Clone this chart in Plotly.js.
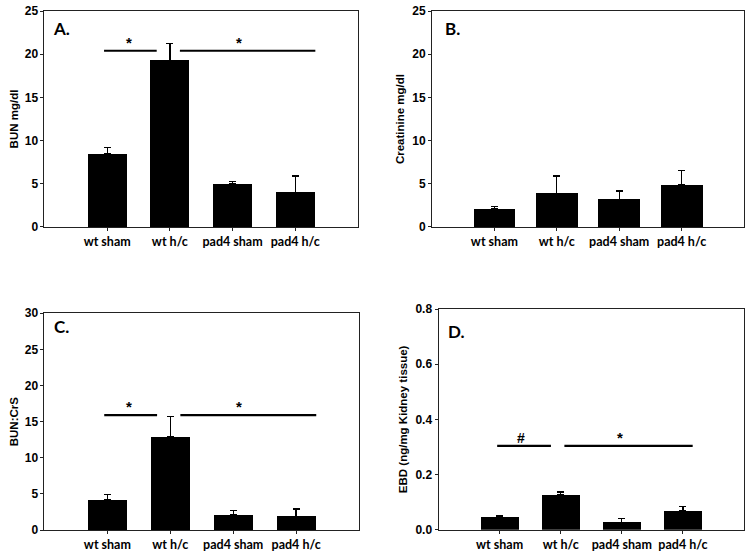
<!DOCTYPE html>
<html>
<head>
<meta charset="utf-8">
<script src="https://cdn.plot.ly/plotly-3.0.1.min.js"></script>
<style>html,body{margin:0;padding:0;background:#fff}#chart{width:750px;height:554px}</style>
</head>
<body>
<div id="chart"></div>
<script>
// ---- data ----
var categories = ["wt sham", "wt h/c", "pad4 sham", "pad4 h/c"];
var bunValues = [8.5, 19.3, 5.0, 4.0];
var bunErrors = [0.7, 1.9, 0.3, 1.9];
var creatValues = [2.1, 3.9, 3.2, 4.9];
var creatErrors = [0.3, 2.0, 0.95, 1.6];
var ratioValues = [4.15, 12.9, 2.1, 1.9];
var ratioErrors = [0.8, 2.8, 0.6, 1.0];
var ebdValues = [0.045, 0.126, 0.027, 0.068];
var ebdErrors = [0.005, 0.011, 0.014, 0.015];
var yTicksA = [0, 5, 10, 15, 20, 25];
var yTicksC = [0, 5, 10, 15, 20, 25, 30];
var yTicksD = [0, 0.2, 0.4, 0.6, 0.8];
var yTickTextD = ["0.0", "0.2", "0.4", "0.6", "0.8"];
// significance brackets: [x start, x end, y, symbol, symbol x]
var sigA = [[-0.05, 0.79, 20.4, "*", 0.35], [1.16, 3.32, 20.4, "*", 2.1]];
var sigC = [[-0.05, 0.79, 15.9, "*", 0.35], [1.16, 3.32, 15.9, "*", 2.1]];
var sigD = [[-0.04, 0.84, 0.304, "#", 0.35], [1.06, 3.16, 0.304, "*", 1.97]];

var xIdx = categories.map(function (c, i) { return i; });

function barTrace(vals, errs, xa, ya, w) {
  return {
    type: "bar", x: xIdx, y: vals, xaxis: xa, yaxis: ya, width: w,
    marker: {color: "#000000", line: {width: 0}},
    error_y: {type: "data", array: errs, symmetric: false, arrayminus: errs.map(function(){return 0;}), color: "#000", thickness: 1.3, width: 3.5},
    showlegend: false, hoverinfo: "none"
  };
}
var traces = [
  barTrace(bunValues, bunErrors, "x", "y", 0.62),
  barTrace(creatValues, creatErrors, "x2", "y2", 0.67),
  barTrace(ratioValues, ratioErrors, "x3", "y3", 0.62),
  barTrace(ebdValues, ebdErrors, "x4", "y4", 0.62)
];
var annotations = [];
function addSig(sig, xa, ya) {
  sig.forEach(function (s) {
    traces.push({type: "scatter", mode: "lines", x: [s[0], s[1]], y: [s[2], s[2]], xaxis: xa, yaxis: ya,
      line: {color: "#000", width: 2.2}, showlegend: false, hoverinfo: "none"});
    annotations.push({xref: xa, yref: ya, x: s[4], y: s[2], yanchor: "bottom", yshift: -2, text: s[3], showarrow: false,
      font: {family: "Liberation Sans, Arial", size: s[3] === "#" ? 14 : 15, color: "#000", weight: "bold"}});
  });
}
addSig(sigA, "x", "y");
addSig(sigC, "x3", "y3");
addSig(sigD, "x4", "y4");

function panelLabel(t, xa, ya, xv, yv) {
  annotations.push({xref: xa + " domain", yref: ya + " domain", x: xv, y: yv, xanchor: "left", yanchor: "middle",
    text: t, showarrow: false, font: {family: "Lato, Open Sans, sans-serif", size: 17, color: "#000", weight: "bold"}});
}
panelLabel("A.", "x", "y", 0.02, 0.92);
panelLabel("B.", "x2", "y2", 0.036, 0.92);
panelLabel("C.", "x3", "y3", 0.024, 0.94);
panelLabel("D.", "x4", "y4", 0.026, 0.90);

var tickFontY = {family: "Liberation Sans, Arial", size: 12, color: "#000", weight: "bold"};
var tickFontX = {family: "Lato, Open Sans, sans-serif", size: 12.5, color: "#000", weight: "bold"};
var titleFont = {family: "Liberation Sans, Arial", size: 11.5, color: "#000", weight: "bold"};

function xAxis(dom, anchor) {
  return {domain: dom, anchor: anchor, range: [-1, 4], tickvals: xIdx, ticktext: categories, tickangle: 0,
    showgrid: false, zeroline: false, showline: true, linecolor: "#222", linewidth: 1, mirror: true,
    ticks: "outside", ticklen: 3, tickcolor: "#222", tickfont: tickFontX, fixedrange: true};
}
function yAxis(dom, anchor, range, tv, tt, title, standoff) {
  return {domain: dom, anchor: anchor, range: range, tickvals: tv, ticktext: tt,
    showgrid: false, zeroline: false, showline: true, linecolor: "#222", linewidth: 1, mirror: true,
    ticks: "outside", ticklen: 3, tickcolor: "#222", tickfont: tickFontY,
    title: {text: title, font: titleFont, standoff: standoff}, fixedrange: true};
}

var layout = {
  width: 750, height: 554,
  margin: {l: 0, r: 0, t: 0, b: 0},
  paper_bgcolor: "#fff", plot_bgcolor: "#fff",
  showlegend: false,
  bargap: 0,
  xaxis: xAxis([0.0593, 0.4773], "y"),
  yaxis: yAxis([0.5903, 0.9801], "x", [0, 25], yTicksA, yTicksA.map(String), "BUN mg/dl", 3),
  xaxis2: xAxis([0.576, 0.992], "y2"),
  yaxis2: yAxis([0.5903, 0.9801], "x2", [0, 25], yTicksA, yTicksA.map(String), "Creatinine mg/dl", 5),
  xaxis3: xAxis([0.0593, 0.4787], "y3"),
  yaxis3: yAxis([0.0433, 0.4345], "x3", [0, 30], yTicksC, yTicksC.map(String), "BUN:CrS", 3),
  xaxis4: xAxis([0.5847, 0.992], "y4"),
  yaxis4: yAxis([0.0439, 0.4422], "x4", [0, 0.8], yTicksD, yTickTextD, "EBD (ng/mg Kidney tissue)", 5),
  annotations: annotations
};
Plotly.newPlot("chart", traces, layout, {staticPlot: true, displayModeBar: false});
</script>
</body>
</html>
